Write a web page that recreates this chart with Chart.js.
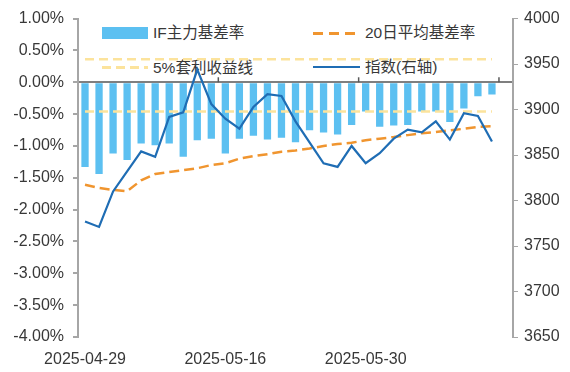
<!DOCTYPE html>
<html lang="zh-CN">
<head>
<meta charset="UTF-8">
<title>IF主力基差率</title>
<script src="https://cdn.jsdelivr.net/npm/chart.js@4.4.1/dist/chart.umd.min.js"></script>
<style>
  html, body { margin: 0; padding: 0; background: #fff; }
  body {
    width: 570px; height: 372px; position: relative; overflow: hidden;
    font-family: "Liberation Sans", Arial, "Noto Sans CJK SC", sans-serif;
  }
  #wrap { position: absolute; left: 0; top: 0; width: 570px; height: 372px; z-index: 1; }
  /* legend sits under the canvas so the index line crosses it like in the original */
  .lg { position: absolute; z-index: 0; }
  .lg-text { position: absolute; font-size: 15.5px; line-height: 18px; color: #383838; white-space: nowrap; }
</style>
</head>
<body>
  <div class="lg" id="sw-bar" style="left:102px; top:27px; width:46px; height:12px;"></div>
  <div class="lg-text" style="left:153px; top:24px;">IF主力基差率</div>

  <div class="lg" id="sw-arb" style="left:102px; top:66px; width:46px; height:3px;"></div>
  <div class="lg-text" style="left:153px; top:59px;">5%套利收益线</div>

  <div class="lg" id="sw-ma" style="left:313px; top:32px; width:44px; height:3px;"></div>
  <div class="lg-text" style="left:365px; top:24px;">20日平均基差率</div>

  <div class="lg" id="sw-idx" style="left:313px; top:66px; width:47px; height:2px;"></div>
  <div class="lg-text" style="left:365px; top:58px;">指数(右轴)</div>

  <div id="wrap"><canvas id="chart" width="570" height="372"></canvas></div>

<script>
  // trading days shown on the chart
  const dates = [
    '2025-04-29', '2025-04-30', '2025-05-06', '2025-05-07', '2025-05-08',
    '2025-05-09', '2025-05-12', '2025-05-13', '2025-05-14', '2025-05-15',
    '2025-05-16', '2025-05-19', '2025-05-20', '2025-05-21', '2025-05-22',
    '2025-05-23', '2025-05-26', '2025-05-27', '2025-05-28', '2025-05-29',
    '2025-05-30', '2025-06-03', '2025-06-04', '2025-06-05', '2025-06-06',
    '2025-06-09', '2025-06-10', '2025-06-11', '2025-06-12', '2025-06-13'
  ];

  // IF主力基差率 (%)
  const basisRate = [
    -1.33, -1.44, -1.12, -1.22, -0.96, -0.99, -0.96, -1.17, -0.91, -0.885,
    -1.12, -0.885, -0.84, -0.90, -0.87, -0.94, -0.755, -0.79, -0.82, -0.67,
    -0.46, -0.70, -0.68, -0.67, -0.46, -0.46, -0.625, -0.41, -0.22, -0.19
  ];

  // 20日平均基差率 (%)
  const basisMA20 = [
    -1.61, -1.66, -1.69, -1.71, -1.54, -1.44, -1.41, -1.38, -1.35, -1.30,
    -1.27, -1.20, -1.16, -1.13, -1.09, -1.07, -1.04, -1.00, -0.97, -0.95,
    -0.91, -0.885, -0.86, -0.83, -0.80, -0.78, -0.755, -0.73, -0.70, -0.69
  ];

  // 指数 (right axis)
  const indexClose = [
    3777, 3771, 3810, 3832, 3854, 3848, 3892, 3897, 3944, 3906,
    3890, 3879, 3903, 3917, 3915, 3887, 3864, 3841, 3837, 3860,
    3841, 3852, 3868, 3878, 3875, 3887, 3867, 3896, 3893, 3865
  ];

  // 5%套利收益线 levels (%)
  const arbUpper = 0.36;
  const arbLower = -0.46;

  const xLabelEvery = 10;

  const colors = {
    bar: '#5CC0F1',
    ma: '#F0952F',
    arb: '#FCE39C',
    idx: '#1F6DB4',
    axis: '#A6A6A6',
    zero: '#7F7F7F',
    text: '#383838'
  };

  // one empty slot at the end, the original leaves that room before the right axis
  const labels = dates.concat(['']);
  const arbUpperLine = dates.map(() => arbUpper);
  const arbLowerLine = dates.map(() => arbLower);

  document.getElementById('sw-bar').style.background = colors.bar;
  document.getElementById('sw-idx').style.background = colors.idx;
  document.getElementById('sw-arb').style.background =
    'repeating-linear-gradient(to right, ' + colors.arb + ' 0 9px, transparent 9px 14px)';
  document.getElementById('sw-ma').style.background =
    'repeating-linear-gradient(to right, ' + colors.ma + ' 0 10px, transparent 10px 16px)';

  // small tick marks on the zero line between every 10 categories
  const zeroTicks = {
    id: 'zeroTicks',
    afterDatasetsDraw(chart) {
      const { ctx, scales } = chart;
      const x = scales.x;
      const y0 = scales.y.getPixelForValue(0);
      ctx.save();
      ctx.strokeStyle = '#595959';
      ctx.lineWidth = 1.5;
      for (let i = xLabelEvery; i < labels.length; i += xLabelEvery) {
        const px = (x.getPixelForValue(i - 1) + x.getPixelForValue(i)) / 2;
        ctx.beginPath();
        ctx.moveTo(px, y0);
        ctx.lineTo(px, y0 - 5);
        ctx.stroke();
      }
      ctx.restore();
    }
  };

  Chart.defaults.font.family = '"Liberation Sans", Arial, "Noto Sans CJK SC", sans-serif';
  Chart.defaults.font.size = 16;
  Chart.defaults.color = colors.text;

  new Chart(document.getElementById('chart'), {
    data: {
      labels: labels,
      datasets: [
        {
          type: 'line',
          label: '指数(右轴)',
          data: indexClose,
          yAxisID: 'y1',
          borderColor: colors.idx,
          borderWidth: 2.2,
          pointRadius: 0,
          tension: 0,
          order: 0
        },
        {
          type: 'line',
          label: '20日平均基差率',
          data: basisMA20,
          yAxisID: 'y',
          borderColor: colors.ma,
          borderWidth: 2.5,
          borderDash: [10, 5],
          pointRadius: 0,
          tension: 0,
          order: 1
        },
        {
          type: 'line',
          label: '5%套利收益线',
          data: arbUpperLine,
          yAxisID: 'y',
          borderColor: colors.arb,
          borderWidth: 2.5,
          borderDash: [9, 5],
          pointRadius: 0,
          order: 2
        },
        {
          type: 'line',
          label: '5%套利收益线 下',
          data: arbLowerLine,
          yAxisID: 'y',
          borderColor: colors.arb,
          borderWidth: 2.5,
          borderDash: [9, 5],
          pointRadius: 0,
          order: 2
        },
        {
          type: 'bar',
          label: 'IF主力基差率',
          data: basisRate,
          yAxisID: 'y',
          backgroundColor: colors.bar,
          categoryPercentage: 1,
          barPercentage: 0.52,
          order: 3
        }
      ]
    },
    options: {
      responsive: false,
      animation: false,
      layout: { padding: { top: 16, left: 0, right: 0, bottom: 0 } },
      plugins: {
        legend: { display: false },
        tooltip: { enabled: false }
      },
      scales: {
        x: {
          type: 'category',
          offset: true,
          grid: { display: false, drawTicks: false },
          border: { display: false },
          ticks: {
            autoSkip: false,
            maxRotation: 0,
            padding: 13,
            callback: (v, i) => (i % xLabelEvery === 0 && i < dates.length) ? dates[i] : ''
          },
          afterFit: s => { s.height = 35; }
        },
        y: {
          position: 'left',
          min: -4,
          max: 1,
          ticks: {
            stepSize: 0.5,
            padding: 9,
            callback: v => v.toFixed(2) + '%'
          },
          grid: {
            color: ctx => (ctx.tick && Math.abs(ctx.tick.value) < 1e-9) ? colors.zero : 'rgba(0,0,0,0)',
            lineWidth: 2,
            tickColor: colors.axis,
            tickLength: 5
          },
          border: { color: colors.axis, width: 2 },
          afterFit: s => { s.width = 78; }
        },
        y1: {
          position: 'right',
          min: 3650,
          max: 4000,
          ticks: { stepSize: 50, padding: 6, callback: v => String(v) },
          grid: {
            drawOnChartArea: false,
            tickColor: colors.axis,
            tickLength: 5
          },
          border: { color: colors.axis, width: 2 },
          afterFit: s => { s.width = 57; }
        }
      }
    },
    plugins: [zeroTicks]
  });
</script>
</body>
</html>
